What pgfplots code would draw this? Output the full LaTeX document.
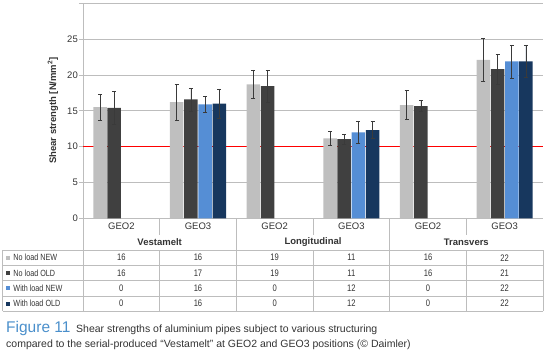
\documentclass[border=0pt]{standalone}
\usepackage{fontspec}
\setmainfont{Liberation Sans}
\usepackage{pgfplots}
\pgfplotsset{compat=1.18}
\definecolor{lg}{HTML}{BFBFBF}
\definecolor{dg}{HTML}{404040}
\definecolor{bl}{HTML}{558ED5}
\definecolor{nv}{HTML}{17375E}
\definecolor{gridc}{HTML}{BDBDBD}
\definecolor{figblue}{HTML}{4A8FCB}
\definecolor{txt}{HTML}{333333}
\definecolor{errc}{HTML}{3A3A3A}
\newcommand{\tf}{\fontsize{9.5}{10}\selectfont}
\newcommand{\cond}[1]{\scalebox{0.8}[1]{#1}}
\begin{document}
\begin{tikzpicture}[x=1pt,y=1pt]
\useasboundingbox (-83,-138.7) rectangle (464,218.3);
\begin{axis}[at={(0,0)}, anchor=south west, scale only axis,
  width=460pt, height=215pt,
  xmin=-0.5, xmax=5.5, ymin=0, ymax=30,
  axis x line*=bottom, axis y line*=left,
  axis line style={-, draw=gridc, line width=0.8pt},
  xtick=\empty, ytick={0,5,...,30}, yticklabels={0,5,10,15,20,25,{}},
  ymajorgrids, grid style={draw=gridc, line width=0.9pt},
  major tick length=4pt, tick align=outside,
  tick style={draw=gridc, line width=0.8pt},
  yticklabel style={font=\fontsize{9.5}{10}\selectfont, text=txt, inner sep=1pt},
  /pgf/number format/assume math mode=true,
  ybar=0.7pt, bar width=13.5pt, clip=false,
  error bars/error bar style={line width=0.6pt, draw=errc},
  error bars/error mark options={line width=0.6pt, draw=errc, mark size=2pt, rotate=90},
]
\addplot[sharp plot, draw=red, line width=1.2pt, mark=none, forget plot] coordinates {(-0.5,10) (5.5,10)};
% No load NEW
\addplot[fill=lg, draw=none,
  error bars/.cd, y dir=both, y explicit] coordinates {
  (0,15.5) +- (0,1.8)
  (1,16.2) +- (0,2.5)
  (2,18.7) +- (0,2.0)
  (3,11.15) +- (0,0.95)
  (4,15.8) +- (0,2.05)
  (5,22.1) +- (0,3.0)
};
% No load OLD
\addplot[fill=dg, draw=none,
  error bars/.cd, y dir=both, y explicit] coordinates {
  (0,15.4) +- (0,2.3)
  (1,16.6) +- (0,1.6)
  (2,18.45) +- (0,2.2)
  (3,11.05) +- (0,0.7)
  (4,15.65) +- (0,0.75)
  (5,20.8) +- (0,2.05)
};
% With load NEW
\addplot[fill=bl, draw=none,
  error bars/.cd, y dir=both, y explicit] coordinates {
  (1,15.9) +- (0,1.15)
  (3,12.0) +- (0,1.6)
  (5,21.9) +- (0,2.3)
};
% With load OLD
\addplot[fill=nv, draw=none,
  error bars/.cd, y dir=both, y explicit] coordinates {
  (1,16.0) +- (0,2.05)
  (3,12.3) +- (0,1.2)
  (5,21.9) +- (0,2.2)
};
\end{axis}
% y label
\node[rotate=90, font=\bfseries\fontsize{9.5}{10}\selectfont, text=txt] at (-30,107.8) {Shear strength [N/mm\textsuperscript{2}]};
% separators below axis
\begin{scope}[draw=gridc, line width=0.8pt]
\draw (0,0) -- (0,-93);
\draw (76.67,0) -- (76.67,-17);
\draw (230,0) -- (230,-17);
\draw (383.33,0) -- (383.33,-17);
\draw (153.33,0) -- (153.33,-93);
\draw (306.67,0) -- (306.67,-93);
\draw (-80.3,-31.7) -- (460,-31.7);
\draw (-80.3,-47.0) -- (460,-47.0);
\draw (-80.3,-62.3) -- (460,-62.3);
\draw (-80.3,-77.6) -- (460,-77.6);
\draw (-80.3,-93) -- (460,-93);
\draw (-80.3,-31.7) -- (-80.3,-93);
\draw (76.67,-31.7) -- (76.67,-93);
\draw (230,-31.7) -- (230,-93);
\draw (383.33,-31.7) -- (383.33,-93);
\draw (460,-31.7) -- (460,-93);
\end{scope}
% category labels
\foreach \i/\g in {0/GEO2,1/GEO3,2/GEO2,3/GEO3,4/GEO2,5/GEO3}
  \node[font=\fontsize{9.5}{10}\selectfont, text=txt] at ({76.67*(\i+0.5)},-8.2) {\g};
\node[font=\bfseries\fontsize{9.5}{10}\selectfont, text=txt] at (76.67,-24.2) {Vestamelt};
\node[font=\bfseries\fontsize{9.5}{10}\selectfont, text=txt] at (230,-24.2) {Longitudinal};
\node[font=\bfseries\fontsize{9.5}{10}\selectfont, text=txt] at (383.33,-24.2) {Transvers};
% row labels
\foreach \y/\c/\t in {-39.4/lg/No load NEW,-54.7/dg/No load OLD,-70/bl/With load NEW,-85.3/nv/With load OLD}{
  \fill[\c] (-77,\y-2) rectangle (-73,\y+2);
  \node[anchor=west, inner sep=0pt, font=\fontsize{9}{10}\selectfont, text=txt] at (-69.7,\y) {\cond{\t}};
}
% values
\foreach \y/\a/\b/\cc/\d/\e/\f in {-39.4/16/16/19/11/16/22,-54.7/16/17/19/11/16/21,-70/0/16/0/12/0/22,-85.3/0/16/0/12/0/22}{
  \node[font=\tf, text=txt] at (38.33,\y) {\cond{\a}};
  \node[font=\tf, text=txt] at (115,\y) {\cond{\b}};
  \node[font=\tf, text=txt] at (191.67,\y) {\cond{\cc}};
  \node[font=\tf, text=txt] at (268.33,\y) {\cond{\d}};
  \node[font=\tf, text=txt] at (345,\y) {\cond{\e}};
  \node[font=\tf, text=txt] at (421.67,\y) {\cond{\f}};
}
% caption
\node[anchor=base west, inner sep=0pt, font=\fontsize{15.5}{16}\selectfont, text=figblue] at (-77,-113.7) {Figure 11};
\node[anchor=base west, inner sep=0pt, font=\fontsize{10.5}{11}\selectfont, text=txt] at (-7,-113.7) {Shear strengths of aluminium pipes subject to various structuring};
\node[anchor=base west, inner sep=0pt, font=\fontsize{10.5}{11}\selectfont, text=txt] at (-77,-128.7) {compared to the serial-produced “Vestamelt” at GEO2 and GEO3 positions (© Daimler)};
\end{tikzpicture}
\end{document}
